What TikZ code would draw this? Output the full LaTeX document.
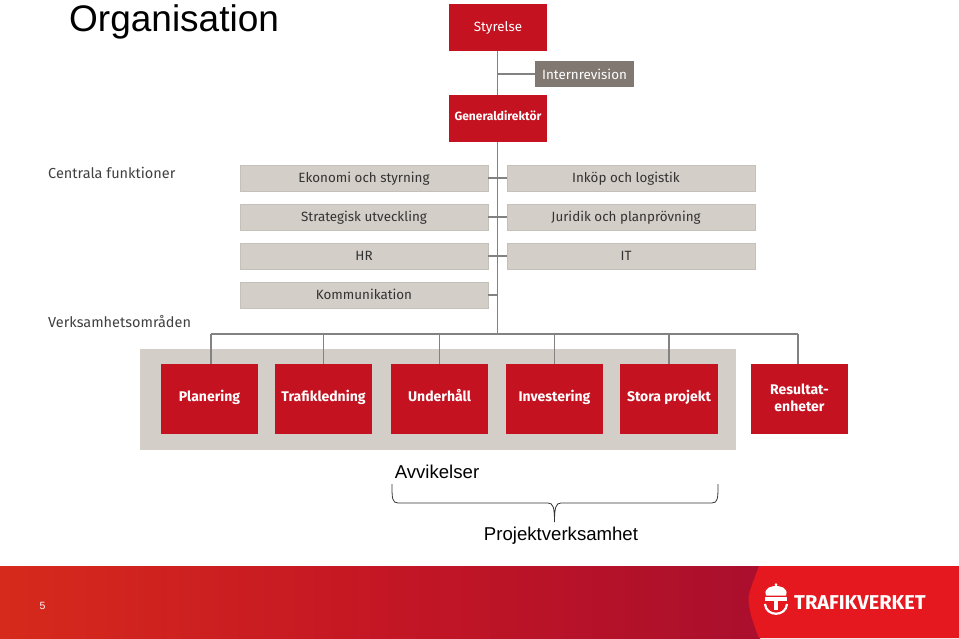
\documentclass[tikz,border=0pt]{standalone}
\usepackage{fontspec}
\setmainfont{Fira Sans}
\newfontfamily\arialfont{Liberation Sans}
\definecolor{tvred}{RGB}{196,18,32}
\definecolor{tvgrey}{RGB}{211,206,200}
\definecolor{tvtaupe}{RGB}{128,120,113}
\definecolor{tvline}{RGB}{130,130,130}
\definecolor{tvpanel}{RGB}{228,24,30}
\definecolor{footl}{RGB}{214,42,28}
\definecolor{footm}{RGB}{196,22,36}
\definecolor{footr}{RGB}{170,15,45}
\begin{document}
\begin{tikzpicture}[x=1pt,y=-1pt,font=\fontsize{14.5}{16}\selectfont,
  redbox/.style={fill=tvred, text=white, minimum width=97.5pt, inner sep=0pt, align=center, font=\fontsize{14}{17}\selectfont\bfseries},
  topbox/.style={redbox, minimum height=47pt, text height=10pt, text depth=2.5pt},
  unitbox/.style={redbox, minimum height=70pt, text height=10pt, text depth=5pt},
  greybox/.style={fill=tvgrey, draw=tvgrey!93!black, line width=0.4pt, text=black!80, minimum width=247.5pt, minimum height=26pt, inner sep=0pt, text height=11pt, text depth=2pt, font=\fontsize{13.4}{16}\selectfont},
  greyright/.style={greybox, execute at begin node={\kern-10pt}},
  link/.style={draw=tvline, line width=1.3pt},
  arialtext/.style={font=\fontsize{18.6}{22}\selectfont\arialfont, text=black, inner sep=0pt}]
  \useasboundingbox (0,0) rectangle (959,638);
  % band behind the units
  \fill[tvgrey] (140,349) rectangle (736,450);
  % top of the tree
  \node[topbox, font=\fontsize{13.4}{17}\selectfont] (styrelse) at (498,27.5) {Styrelse};
  \node[topbox, text depth=7pt, font=\fontsize{12}{16}\selectfont\bfseries] (gd) at (498,118.5) {Generaldirektör};
  \node[fill=tvtaupe, text=white, minimum width=99pt, minimum height=26pt, inner sep=0pt, font=\fontsize{13.4}{16}\selectfont] (revision) at (584.5,74) {Internrevision};
  \coordinate (trunk) at (497.5,334);
  \coordinate (revfoot) at (497.5,74);
  % central functions
  \node[greybox] (ekonomi) at (364,178) {Ekonomi och styrning};
  \node[greybox] (strategi) at (364,217) {Strategisk utveckling};
  \node[greybox] (hr) at (364,256) {HR};
  \node[greybox] (komm) at (364,295) {Kommunikation};
  \node[greyright] (inkop) at (631,178) {Inköp och logistik};
  \node[greyright] (juridik) at (631,217) {Juridik och planprövning};
  \node[greyright] (it) at (631,256) {IT};
  % units
  \node[unitbox] (planering) at (209.5,399) {Planering};
  \node[unitbox] (trafik) at (323.5,399) {Trafikledning};
  \node[unitbox] (underhall) at (439.5,399) {Underhåll};
  \node[unitbox] (invest) at (554.5,399) {Investering};
  \node[unitbox] (stora) at (669,399) {Stora projekt};
  \node[unitbox, text height=27pt, text depth=3pt] (result) at (799.5,399) {Resultat-\\enheter};
  % lines
  \draw[link] (styrelse.south -| trunk) -- (gd.north -| trunk);
  \draw[link] (revfoot) -- (revision.west);
  \draw[link] (gd.south -| trunk) -- (trunk);
  \foreach \func in {ekonomi,strategi,hr,komm}
    \draw[link] (\func.east) -- (\func.east -| trunk);
  \foreach \func in {inkop,juridik,it}
    \draw[link] (\func.west) -- (\func.west -| trunk);
  \coordinate (railw) at (211,334);
  \coordinate (raile) at (798,334);
  \draw[link] (railw) -- (raile);
  \draw[link] (railw) -- (railw |- planering.north);
  \draw[link] (raile) -- (raile |- result.north);
  \foreach \unit in {trafik,underhall,invest,stora}
    \draw[link] (\unit.north) -- (\unit.north |- trunk);
  % headings
  \node[anchor=west, inner sep=0pt, text=black!75] (central) at (48,173) {Centrala funktioner};
  \node[anchor=west, inner sep=0pt, text=black!75] (omraden) at (48,322) {Verksamhetsområden};
  \node[anchor=west, inner sep=0pt, font=\fontsize{37}{40}\selectfont\arialfont] (titel) at (69,22) {Organisation};
  \node[arialtext] (avvik) at (437,472) {Avvikelser};
  \node[arialtext] (projekt) at (561,536) {Projektverksamhet};
  % brace
  \coordinate (bracel) at (392,484);
  \coordinate (bracer) at (718,484);
  \coordinate (bracem) at (554.5,522);
  \draw[black!80, line width=0.8pt] (bracel) .. controls (392,498) and (392,503) .. (398,503) -- (548,503)
    .. controls (553,503) and (554.5,507) .. (bracem) .. controls (554.5,507) and (556,503) .. (561,503)
    -- (712,503) .. controls (718,503) and (718,498) .. (bracer);
  % footer
  \shade[left color=footl, right color=footr, middle color=footm] (0,566) rectangle (760,638);
  \fill[tvpanel] (959,566) -- (759,566) .. controls (752,585) and (747,595) .. (749,604)
    .. controls (750,615) and (755,628) .. (759,638) -- (959,638) -- cycle;
  \node[font=\fontsize{10.5}{12}\selectfont\arialfont, text=white, inner sep=0pt] (sida) at (42.5,606) {5};
  \node[anchor=west, inner sep=0pt, text=white, font=\fontsize{20}{24}\selectfont\bfseries] (logo) at (794,603) {TRAFIKVERKET};
  % crown and T of the logo
  \fill[white] (765,597) rectangle (787,601);
  \fill[white] (774,600) rectangle (778,610);
  \draw[white, line width=2.2pt] (765,604) .. controls (766,617) and (786,617) .. (787,604);
  \fill[white] (766,595.5) .. controls (763,587) and (773,586) .. (776,586)
    .. controls (779,586) and (789,587) .. (786,595.5) -- cycle;
  \draw[white, line width=1.1pt] (776,587) -- (776,584);
  \fill[white] (776,584.5) circle (1.5pt);
\end{tikzpicture}
\end{document}
